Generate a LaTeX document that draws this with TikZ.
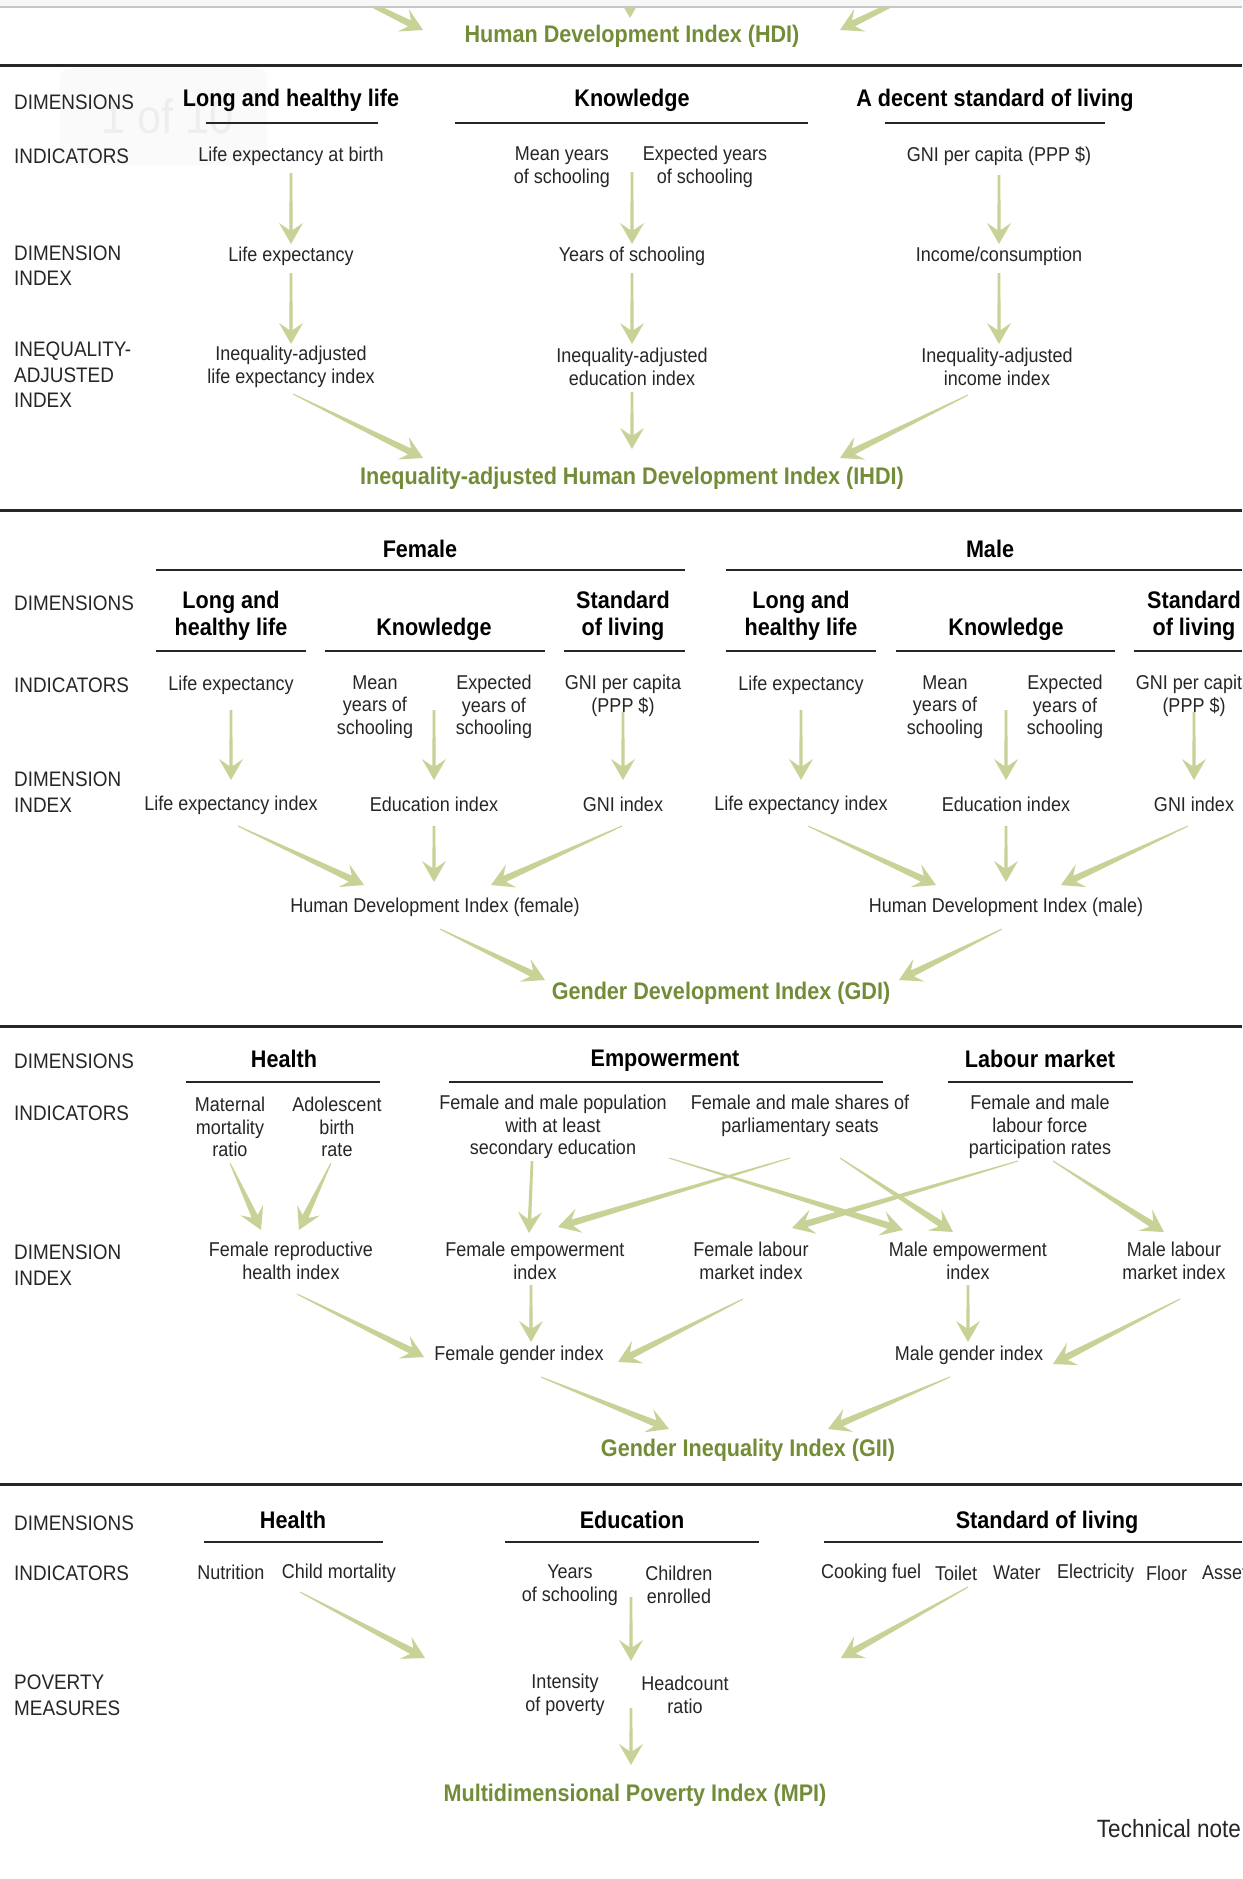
\documentclass[tikz,border=0pt]{standalone}
\usepackage{fontspec}
\setmainfont{Liberation Sans}[FakeStretch=0.9]
\usetikzlibrary{calc}

\definecolor{leaf}{RGB}{199,210,150}
\definecolor{titlegreen}{RGB}{115,140,55}
\definecolor{ink}{RGB}{38,38,38}
\newcommand{\flowtail}{0.5pt}
\newcommand{\flowwide}{3.3pt}
\newcommand{\flowneck}{15pt}
\newcommand{\flowhead}{22pt}
\newcommand{\flowbarb}{12.5pt}

\begin{document}
\begin{tikzpicture}[x=1pt,y=-1pt,
	rowlabel/.style={anchor=west,align=left,inner sep=0pt,text=ink,font=\fontsize{21}{25.5}\selectfont},
	dimhead/.style={align=center,inner sep=0pt,font=\bfseries\fontsize{24}{27.5}\selectfont},
	item/.style={align=center,inner sep=0pt,text=ink,font=\fontsize{20}{22.5}\selectfont},
	result/.style={inner sep=0pt,text=titlegreen,font=\bfseries\fontsize{24}{28}\selectfont},
	rule/.style={line width=3pt,ink},
	bar/.style={line width=2pt,ink},
	steady/.code={\def\flowtail{1.3pt}\def\flowwide{1.7pt}\def\flowhead{21pt}\def\flowneck{14pt}\def\flowbarb{12pt}},
	flow/.style={fill=leaf,draw=none,
		to path={let \p1=(\tikztostart), \p2=(\tikztotarget) in
			($(\p1)!\flowtail!90:(\p2)$)
			-- ($(\p2)!\flowneck!(\p1)!\flowwide!-90:(\p1)$)
			-- ($(\p2)!\flowhead!(\p1)!\flowbarb!-90:(\p1)$)
			-- (\p2)
			-- ($(\p2)!\flowhead!(\p1)!\flowbarb!90:(\p1)$)
			-- ($(\p2)!\flowneck!(\p1)!\flowwide!90:(\p1)$)
			-- ($(\p1)!\flowtail!-90:(\p2)$) -- cycle}}]
	
	\useasboundingbox (0,0) rectangle (1242,1879);
	\fill[white] (0,0) rectangle (1242,1879);
	
	% Top strip, end of the HDI diagram
	\fill[gray!6] (0,0) rectangle (1242,7);
	\draw[gray!45,line width=1.2pt] (0,7) -- (1242,7);
	\node[result] (hdi) at (632,36) {Human Development Index (HDI)};
	\begin{scope}
		\clip (0,7) rectangle (1242,65);
		\coordinate (t1) at (293,-34);
		\coordinate (t2) at (630,-40);
		\coordinate (t3) at (968,-33);
		\path[flow] (t1) to ([shift={(-209,-6)}]hdi.center);
		\path[flow,steady] (t2) to ([shift={(-2,-18)}]hdi.center);
		\path[flow] (t3) to ([shift={(208,-6)}]hdi.center);
	\end{scope}
	\draw[rule] (0,65) -- (1242,65);
	
	% Page counter overlay
	\fill[gray!4,rounded corners=10pt] (60,68) rectangle (267,165);
	\node[inner sep=0pt,text=gray!13,font=\fontsize{48}{50}\selectfont] at (168,116) {1 of 10};
	
	% IHDI
	\node[rowlabel] (r1a) at (14,102) {DIMENSIONS};
	\node[rowlabel] (r1b) at (14,156) {INDICATORS};
	\node[rowlabel] (r1c) at (14,265.5) {DIMENSION\\INDEX};
	\node[rowlabel] (r1d) at (14,375) {INEQUALITY-\\ADJUSTED\\INDEX};
	
	\node[dimhead] (lhl) at (291,100) {Long and healthy life};
	\node[dimhead] (kno) at (632,100) {Knowledge};
	\node[dimhead] (dsl) at (995,100) {A decent standard of living};
	\draw[bar] (206,123) -- (378,123);
	\draw[bar] (455,123) -- (808,123);
	\draw[bar] (885,123) -- (1105,123);
	
	\node[item] (leb) at (291,156) {Life expectancy at birth};
	\node[item] (mys) at (562,167) {Mean years\\of schooling};
	\node[item] (eys) at (705,167) {Expected years\\of schooling};
	\node[item] (gni) at (999,156) {GNI per capita (PPP \$)};
	
	\node[item] (lex) at (291,256) {Life expectancy};
	\node[item] (yos) at (632,256) {Years of schooling};
	\node[item] (inc) at (999,256) {Income/consumption};
	
	\node[item] (ial) at (291,367) {Inequality-adjusted\\life expectancy index};
	\node[item] (iae) at (632,367) {Inequality-adjusted\\education index};
	\node[item] (iai) at (997,367) {Inequality-adjusted\\income index};
	
	\node[result] (ihdi) at (632,478) {Inequality-adjusted Human Development Index (IHDI)};
	
	\path[flow,steady] ([shift={(0,17)}]leb.center) to ([shift={(0,-12)}]lex.center);
	\path[flow,steady] ([shift={(70,5)}]mys.center) to ([shift={(0,-12)}]yos.center);
	\path[flow,steady] ([shift={(0,19)}]gni.center) to ([shift={(0,-12)}]inc.center);
	\path[flow,steady] ([shift={(0,17)}]lex.center) to ([shift={(0,-23)}]ial.center);
	\path[flow,steady] ([shift={(0,17)}]yos.center) to ([shift={(0,-23)}]iae.center);
	\path[flow,steady] ([shift={(0,17)}]inc.center) to ([shift={(2,-23)}]iai.center);
	\path[flow] ([shift={(2,27)}]ial.center) to ([shift={(-209,-20)}]ihdi.center);
	\path[flow,steady] ([shift={(0,25)}]iae.center) to ([shift={(0,-29)}]ihdi.center);
	\path[flow] ([shift={(-29,28)}]iai.center) to ([shift={(208,-20)}]ihdi.center);
	
	\draw[rule] (0,510) -- (1242,510);
	
	% GDI
	\node[dimhead] (female) at (420,549) {Female};
	\node[dimhead] (male) at (990,549) {Male};
	\draw[bar] (156,570) -- (685,570);
	\draw[bar] (726,570) -- (1242,570);
	
	\node[rowlabel] (r2a) at (14,603) {DIMENSIONS};
	\node[rowlabel] (r2b) at (14,685) {INDICATORS};
	\node[rowlabel] (r2c) at (14,792) {DIMENSION\\INDEX};
	
	\node[dimhead] (fdl) at (231,616) {Long and\\healthy life};
	\node[dimhead] (fdk) at (434,629) {Knowledge};
	\node[dimhead] (fds) at (623,616) {Standard\\of living};
	\node[dimhead] (mdl) at (801,616) {Long and\\healthy life};
	\node[dimhead] (mdk) at (1006,629) {Knowledge};
	\node[dimhead] (mds) at (1194,616) {Standard\\of living};
	\draw[bar] (156,651) -- (306,651);
	\draw[bar] (325,651) -- (545,651);
	\draw[bar] (564,651) -- (685,651);
	\draw[bar] (726,651) -- (876,651);
	\draw[bar] (896,651) -- (1115,651);
	\draw[bar] (1134,651) -- (1242,651);
	
	\node[item] (fle) at (231,685) {Life expectancy};
	\node[item] (fmy) at (375,707) {Mean\\years of\\schooling};
	\node[item] (fey) at (494,707) {Expected\\years of\\schooling};
	\node[item] (fgn) at (623,696) {GNI per capita\\(PPP \$)};
	\node[item] (mle) at (801,685) {Life expectancy};
	\node[item] (mmy) at (945,707) {Mean\\years of\\schooling};
	\node[item] (mey) at (1065,707) {Expected\\years of\\schooling};
	\node[item] (mgn) at (1194,696) {GNI per capita\\(PPP \$)};
	
	\node[item] (fli) at (231,805) {Life expectancy index};
	\node[item] (fei) at (434,804) {Education index};
	\node[item] (fgi) at (623,804) {GNI index};
	\node[item] (mli) at (801,805) {Life expectancy index};
	\node[item] (mei) at (1006,804) {Education index};
	\node[item] (mgi) at (1194,804) {GNI index};
	
	\node[item] (hdf) at (435,907) {Human Development Index (female)};
	\node[item] (hdm) at (1006,907) {Human Development Index (male)};
	\node[result] (gdi) at (721,993) {Gender Development Index (GDI)};
	
	\path[flow,steady] ([shift={(0,25)}]fle.center) to ([shift={(0,-25)}]fli.center);
	\path[flow,steady] ([shift={(59,3)}]fmy.center) to ([shift={(0,-24)}]fei.center);
	\path[flow,steady] ([shift={(0,16)}]fgn.center) to ([shift={(0,-24)}]fgi.center);
	\path[flow,steady] ([shift={(0,25)}]mle.center) to ([shift={(0,-25)}]mli.center);
	\path[flow,steady] ([shift={(61,3)}]mmy.center) to ([shift={(0,-24)}]mei.center);
	\path[flow,steady] ([shift={(0,16)}]mgn.center) to ([shift={(0,-24)}]mgi.center);
	\path[flow] ([shift={(7,21)}]fli.center) to ([shift={(-71,-22)}]hdf.center);
	\path[flow,steady] ([shift={(0,22)}]fei.center) to ([shift={(-1,-25)}]hdf.center);
	\path[flow] ([shift={(-1,22)}]fgi.center) to ([shift={(56,-22)}]hdf.center);
	\path[flow] ([shift={(7,21)}]mli.center) to ([shift={(-70,-22)}]hdm.center);
	\path[flow,steady] ([shift={(0,22)}]mei.center) to ([shift={(0,-25)}]hdm.center);
	\path[flow] ([shift={(-6,22)}]mgi.center) to ([shift={(55,-22)}]hdm.center);
	\path[flow] ([shift={(5,22)}]hdf.center) to ([shift={(-176,-13)}]gdi.center);
	\path[flow] ([shift={(-4,22)}]hdm.center) to ([shift={(178,-13)}]gdi.center);
	
	\draw[rule] (0,1026) -- (1242,1026);
	
	% GII
	\node[rowlabel] (r3a) at (14,1061) {DIMENSIONS};
	\node[rowlabel] (r3b) at (14,1113) {INDICATORS};
	\node[rowlabel] (r3c) at (14,1265) {DIMENSION\\INDEX};
	
	\node[dimhead] (hlt) at (284,1059) {Health};
	\node[dimhead] (emp) at (665,1061) {Empowerment};
	\node[dimhead] (lbm) at (1040,1059) {Labour market};
	\draw[bar] (186,1082) -- (380,1082);
	\draw[bar] (449,1082) -- (883,1082);
	\draw[bar] (948,1082) -- (1133,1082);
	
	\node[item] (mmr) at (230,1127) {Maternal\\mortality\\ratio};
	\node[item] (abr) at (337,1127) {Adolescent\\birth\\rate};
	\node[item] (pop) at (553,1127) {Female and male population\\with at least\\secondary education};
	\node[item] (par) at (800,1116) {Female and male shares of\\parliamentary seats};
	\node[item] (lfp) at (1040,1127) {Female and male\\labour force\\participation rates};
	
	\node[item] (frh) at (291,1261) {Female reproductive\\health index};
	\node[item] (fem) at (535,1261) {Female empowerment\\index};
	\node[item] (flm) at (751,1261) {Female labour\\market index};
	\node[item] (mem) at (968,1261) {Male empowerment\\index};
	\node[item] (mlm) at (1174,1261) {Male labour\\market index};
	
	\node[item] (fgx) at (519,1355) {Female gender index};
	\node[item] (mgx) at (969,1355) {Male gender index};
	\node[result] (gii) at (748,1450) {Gender Inequality Index (GII)};
	
	\path[flow] ([shift={(0,36)}]mmr.center) to ([shift={(-30,-31)}]frh.center);
	\path[flow] ([shift={(-6,36)}]abr.center) to ([shift={(8,-31)}]frh.center);
	\path[flow,steady] ([shift={(-21,34)}]pop.center) to ([shift={(-6,-28)}]fem.center);
	\path[flow] ([shift={(116,31)}]pop.center) to ([shift={(-65,-31)}]mem.center);
	\path[flow] ([shift={(-10,42)}]par.center) to ([shift={(23,-34)}]fem.center);
	\path[flow] ([shift={(40,42)}]par.center) to ([shift={(-15,-29)}]mem.center);
	\path[flow] ([shift={(-22,34)}]lfp.center) to ([shift={(41,-33)}]flm.center);
	\path[flow] ([shift={(13,34)}]lfp.center) to ([shift={(-10,-29)}]mlm.center);
	\path[flow] ([shift={(6,33)}]frh.center) to ([shift={(-95,2)}]fgx.center);
	\path[flow,steady] ([shift={(-4,24)}]fem.center) to ([shift={(12,-13)}]fgx.center);
	\path[flow] ([shift={(-8,38)}]flm.center) to ([shift={(99,7)}]fgx.center);
	\path[flow,steady] ([shift={(0,24)}]mem.center) to ([shift={(-1,-13)}]mgx.center);
	\path[flow] ([shift={(6,38)}]mlm.center) to ([shift={(84,9)}]mgx.center);
	\path[flow] ([shift={(22,22)}]fgx.center) to ([shift={(-79,-21)}]gii.center);
	\path[flow] ([shift={(-19,22)}]mgx.center) to ([shift={(80,-21)}]gii.center);
	
	\draw[rule] (0,1484) -- (1242,1484);
	
	% MPI
	\node[rowlabel] (r4a) at (14,1523) {DIMENSIONS};
	\node[rowlabel] (r4b) at (14,1573) {INDICATORS};
	\node[rowlabel] (r4c) at (14,1695) {POVERTY\\MEASURES};
	
	\node[dimhead] (hl4) at (293,1520) {Health};
	\node[dimhead] (edu) at (632,1520) {Education};
	\node[dimhead] (sol) at (1047,1522) {Standard of living};
	\draw[bar] (204,1542) -- (383,1542);
	\draw[bar] (505,1542) -- (759,1542);
	\draw[bar] (824,1542) -- (1242,1542);
	
	\node[item] (nut) at (231,1572) {Nutrition};
	\node[item] (cmo) at (339,1573) {Child mortality};
	\node[item] (ysc) at (570,1585) {Years\\of schooling};
	\node[item] (cen) at (679,1585) {Children\\enrolled};
	\node[item,anchor=west] (cook) at (821,1573) {Cooking fuel};
	\node[item,anchor=west] (toi) at (935,1573) {Toilet};
	\node[item,anchor=west] (wat) at (993,1573) {Water};
	\node[item,anchor=west] (ele) at (1057,1573) {Electricity};
	\node[item,anchor=west] (flo) at (1146,1573) {Floor};
	\node[item,anchor=west] (ass) at (1202,1573) {Assets};
	
	\node[item] (ipv) at (565,1695) {Intensity\\of poverty};
	\node[item] (hcr) at (685,1695) {Headcount\\ratio};
	\node[result] (mpi) at (635,1795) {Multidimensional Poverty Index (MPI)};
	
	\path[flow] ([shift={(-39,19)}]cmo.center) to ([shift={(-140,-37)}]ipv.center);
	\path[flow,steady] ([shift={(61,12)}]ysc.center) to ([shift={(66,-34)}]ipv.center);
	\path[flow] ([shift={(33,14)}]toi.west) to ([shift={(156,-37)}]hcr.center);
	\path[flow,steady] ([shift={(66,13)}]ipv.center) to ([shift={(-4,-30)}]mpi.center);
	
	\node[inner sep=0pt,anchor=east,text=ink,font=\fontsize{25}{30}\selectfont] (tn) at (1241,1829) {Technical note};
	
\end{tikzpicture}
\end{document}
